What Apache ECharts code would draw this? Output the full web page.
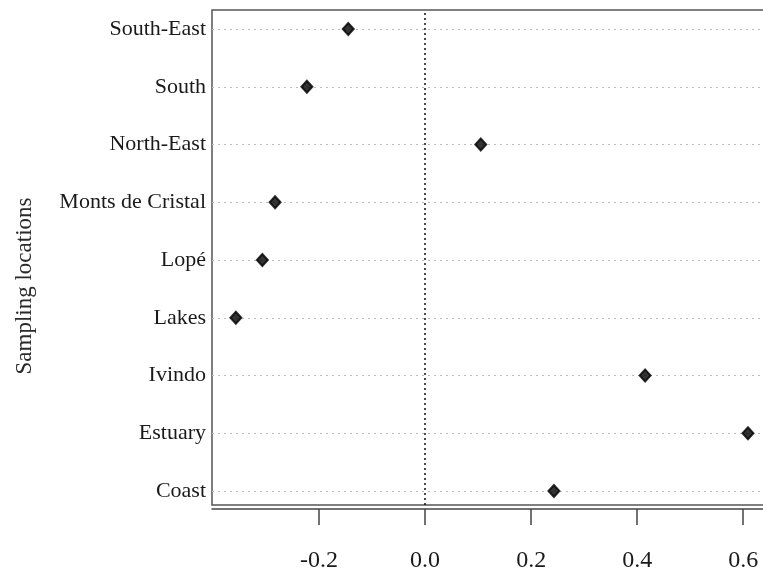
<!DOCTYPE html>
<html>
<head>
<meta charset="utf-8">
<script src="https://cdn.jsdelivr.net/npm/echarts@6/dist/echarts.min.js"></script>
<style>html,body{margin:0;padding:0;background:#fff;}#c{width:763px;height:577px;}</style>
</head>
<body>
<div id="c"></div>
<script>
// bottom to top
const categories = ['Coast', 'Estuary', 'Ivindo', 'Lakes', 'Lopé', 'Monts de Cristal', 'North-East', 'South', 'South-East'];
const values = [0.243, 0.609, 0.415, -0.357, -0.307, -0.283, 0.105, -0.223, -0.145];
const xTicks = [-0.2, 0.0, 0.2, 0.4, 0.6];
const yTitle = 'Sampling locations';

const positions = categories.map((c, i) => i + 1);
const points = values.map((v, i) => [v, positions[i]]);
const font = 'Liberation Serif';

const chart = echarts.init(document.getElementById('c'));
chart.setOption({
  animation: false,
  backgroundColor: '#fff',
  grid: {
    left: 212, top: 10, bottom: 72, right: -12,
    show: true, borderColor: '#555', borderWidth: 1.5, backgroundColor: 'transparent',
    outerBoundsMode: 'none', containLabel: false
  },
  xAxis: {
    type: 'value', min: -0.402, max: 0.66, offset: 4,
    axisLine: { show: true, lineStyle: { color: '#444', width: 1.5 } },
    axisTick: { show: true, length: 16, customValues: xTicks, lineStyle: { color: '#444', width: 1.5 } },
    axisLabel: {
      customValues: xTicks, margin: 40,
      formatter: v => v.toFixed(1),
      fontFamily: font, fontSize: 24, color: '#1a1a1a'
    },
    splitLine: { show: false }
  },
  yAxis: {
    type: 'value', min: 0.758, max: 9.33,
    axisLine: { show: false },
    axisTick: { show: false },
    axisLabel: {
      customValues: positions, margin: 6,
      formatter: v => categories[Math.round(v) - 1],
      fontFamily: font, fontSize: 22, color: '#1a1a1a'
    },
    splitLine: { show: false }
  },
  graphic: [{
    type: 'text',
    x: 25, y: 286, rotation: Math.PI / 2,
    style: {
      text: yTitle, fontFamily: font, fontSize: 23, fill: '#2a2a2a',
      align: 'center', verticalAlign: 'middle'
    }
  }],
  series: [{
    type: 'scatter',
    data: points,
    symbol: 'diamond',
    symbolSize: [11, 12],
    itemStyle: { color: '#000', borderColor: '#000', borderWidth: 2 },
    z: 5,
    markLine: {
      silent: true,
      symbol: 'none',
      label: { show: false },
      animation: false,
      data: positions.map(p => ({ yAxis: p, lineStyle: { color: '#bbb', type: [2, 4], width: 1.2 } }))
        .concat([{ xAxis: 0, lineStyle: { color: '#111', type: [2, 3], width: 1.5 } }])
    }
  }]
});
</script>
</body>
</html>
